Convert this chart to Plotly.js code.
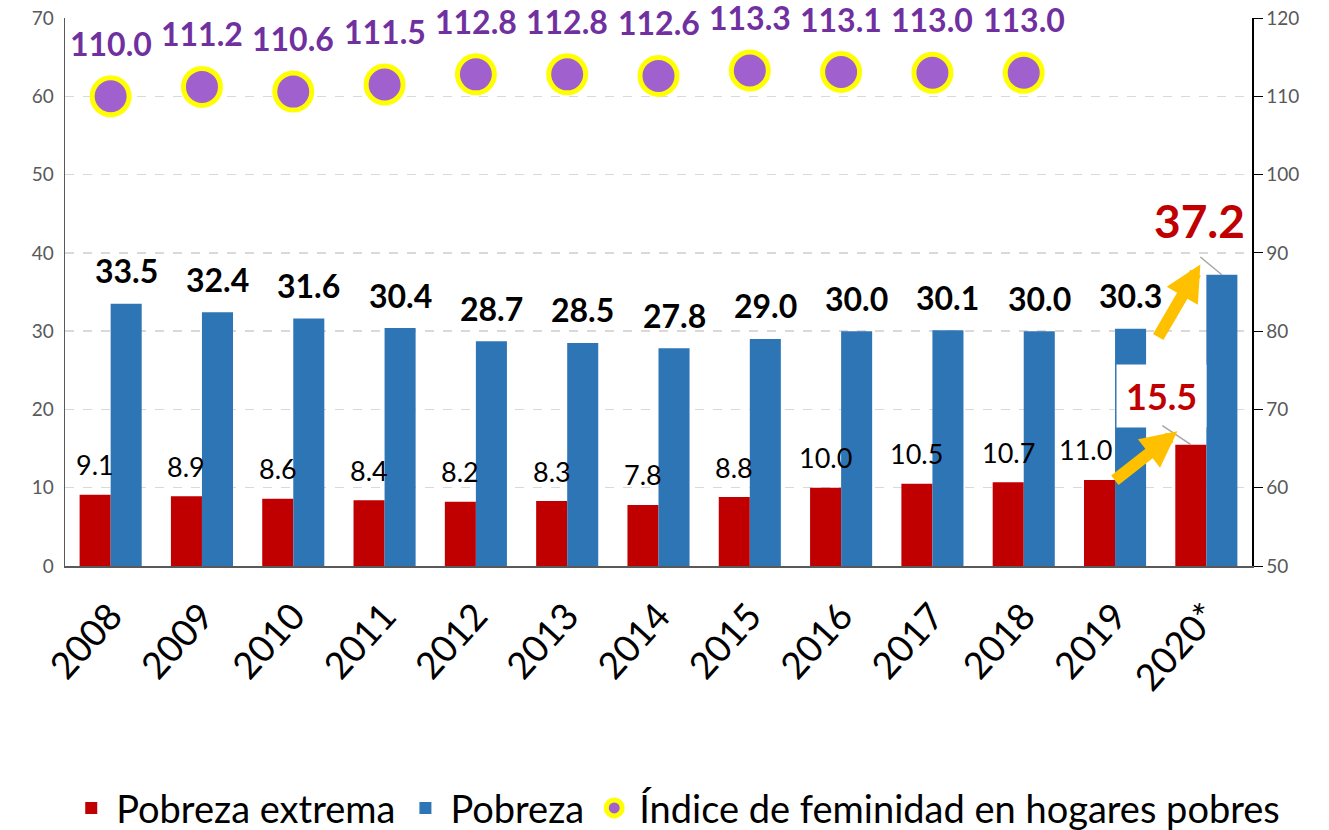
<!DOCTYPE html>
<html>
<head>
<meta charset="utf-8">
<script src="https://cdn.plot.ly/plotly-3.0.1.min.js"></script>
<style>
html,body{margin:0;padding:0;background:#fff;}
#chart{width:1329px;height:830px;}
</style>
</head>
<body>
<div id="chart"></div>
<script>
// ---- Data ----
var years = ['2008','2009','2010','2011','2012','2013','2014','2015','2016','2017','2018','2019','2020*'];
var pobrezaExtrema = [9.1, 8.9, 8.6, 8.4, 8.2, 8.3, 7.8, 8.8, 10.0, 10.5, 10.7, 11.0, 15.5];
var pobreza = [33.5, 32.4, 31.6, 30.4, 28.7, 28.5, 27.8, 29.0, 30.0, 30.1, 30.0, 30.3, 37.2];
var feminidadYears = ['2008','2009','2010','2011','2012','2013','2014','2015','2016','2017','2018'];
var feminidad = [110.0, 111.2, 110.6, 111.5, 112.8, 112.8, 112.6, 113.3, 113.1, 113.0, 113.0];
var seriesNames = ['Pobreza extrema', 'Pobreza', 'Índice de feminidad en hogares pobres'];
var leftTicks = [0, 10, 20, 30, 40, 50, 60, 70];
var rightTicks = [50, 60, 70, 80, 90, 100, 110, 120];

// ---- Styles ----
var FONT = 'Lato, "Open Sans", sans-serif';
var RED = '#C00000', BLUE = '#2E75B6', PURPLE = '#A061CF', YELLOW = '#FFFF00';
var PURPLE_TXT = '#7030A0', ORANGE = '#FFC000';
var HALF = 15.5; // half bar offset in px

var traces = [
  {type:'bar', name:seriesNames[0], x:years, y:pobrezaExtrema, marker:{color:RED}, yaxis:'y', hoverinfo:'skip'},
  {type:'bar', name:seriesNames[1], x:years, y:pobreza, marker:{color:BLUE}, yaxis:'y', hoverinfo:'skip'},
  {type:'scatter', mode:'markers', name:seriesNames[2], x:feminidadYears, y:feminidad, yaxis:'y2',
   marker:{color:PURPLE, size:37, line:{color:YELLOW, width:5}}, hoverinfo:'skip'}
];

var annotations = [];
var last = years.length - 1;
for (var i = 0; i < last; i++) {
  annotations.push({x:i, y:pobrezaExtrema[i], xref:'x', yref:'y', showarrow:false,
    text:pobrezaExtrema[i].toFixed(1), xshift:(i === last-1 ? -HALF-14 : -HALF), yshift:30, yanchor:'middle',
    font:{family:FONT, size:27, color:'#000'}});
  annotations.push({x:i, y:pobreza[i], xref:'x', yref:'y', showarrow:false,
    text:'<b>'+pobreza[i].toFixed(1)+'</b>', xshift:HALF, yshift:33, yanchor:'middle',
    font:{family:FONT, size:32, color:'#000'}});
}
for (var j = 0; j < feminidad.length; j++) {
  annotations.push({x:years.indexOf(feminidadYears[j]), y:feminidad[j], xref:'x', yref:'y2', showarrow:false,
    text:'<b>'+feminidad[j].toFixed(1)+'</b>', yshift:53, yanchor:'middle',
    font:{family:FONT, size:32, color:PURPLE_TXT}});
}
// 2020 highlighted labels
annotations.push({x:last, y:pobrezaExtrema[last], xref:'x', yref:'y', showarrow:false,
  text:'<b>'+pobrezaExtrema[last].toFixed(1)+'</b>', xshift:-45, yshift:49, yanchor:'middle',
  bgcolor:'#FFFFFF', borderpad:9,
  font:{family:FONT, size:36, color:RED}});
annotations.push({x:last, y:pobreza[last], xref:'x', yref:'y', showarrow:false,
  text:'<b>'+pobreza[last].toFixed(1)+'</b>', xshift:-7, yshift:54, yanchor:'middle',
  bgcolor:'#FFFFFF', borderpad:2,
  font:{family:FONT, size:46, color:RED}});
// leader lines
annotations.push({x:last, y:pobrezaExtrema[last], xref:'x', yref:'y', xshift:-HALF,
  text:'', showarrow:true, arrowhead:0, arrowwidth:1.5, arrowcolor:'#A6A6A6', ax:-30, ay:-20});
annotations.push({x:last, y:pobreza[last], xref:'x', yref:'y', xshift:HALF,
  text:'', showarrow:true, arrowhead:0, arrowwidth:1.5, arrowcolor:'#A6A6A6', ax:-23, ay:-19});
// orange arrows
annotations.push({x:last, y:17.2, xref:'x', yref:'y', xshift:-29,
  text:'', showarrow:true, arrowhead:2, arrowsize:0.6, arrowwidth:12, arrowcolor:ORANGE, ax:-64, ay:50});
annotations.push({x:last, y:38.5, xref:'x', yref:'y', xshift:-6,
  text:'', showarrow:true, arrowhead:2, arrowsize:0.6, arrowwidth:12, arrowcolor:ORANGE, ax:-43, ay:74});

var layout = {
  width:1329, height:830,
  margin:{l:65, r:77, t:18, b:264, autoexpand:false},
  paper_bgcolor:'#fff', plot_bgcolor:'#fff',
  barmode:'group', bargap:0.32, bargroupgap:0,
  showlegend:true,
  legend:{orientation:'h', x:1.028, xanchor:'right', y:-0.442, yanchor:'middle',
    font:{family:FONT, size:38, color:'#000'}, itemsizing:'trace', itemwidth:40, traceorder:'normal'},
  font:{family:FONT},
  xaxis:{type:'category', range:[-0.5, years.length-0.5], autorange:false, tickangle:-48,
    tickfont:{family:FONT, size:37, color:'#000'},
    showline:true, linecolor:'#595959', linewidth:1.5, ticks:'', showgrid:false,
    ticklabelstandoff:12},
  yaxis:{range:[0,70], autorange:false, tickvals:leftTicks, showgrid:true, gridcolor:'#D9D9D9', griddash:'dash', gridwidth:1.5,
    showline:true, linecolor:'#595959', linewidth:1.5, ticks:'', zeroline:false,
    tickfont:{family:FONT, size:19, color:'#595959'}, ticklabelstandoff:6},
  yaxis2:{range:[50,120], autorange:false, tickvals:rightTicks, overlaying:'y', side:'right', showgrid:false,
    showline:true, linecolor:'#000', linewidth:1.5, ticks:'outside', ticklen:9, tickcolor:'#000', zeroline:false,
    tickfont:{family:FONT, size:19, color:'#595959'}},
  annotations:annotations
};

Plotly.newPlot('chart', traces, layout, {staticPlot:true});
</script>
</body>
</html>
